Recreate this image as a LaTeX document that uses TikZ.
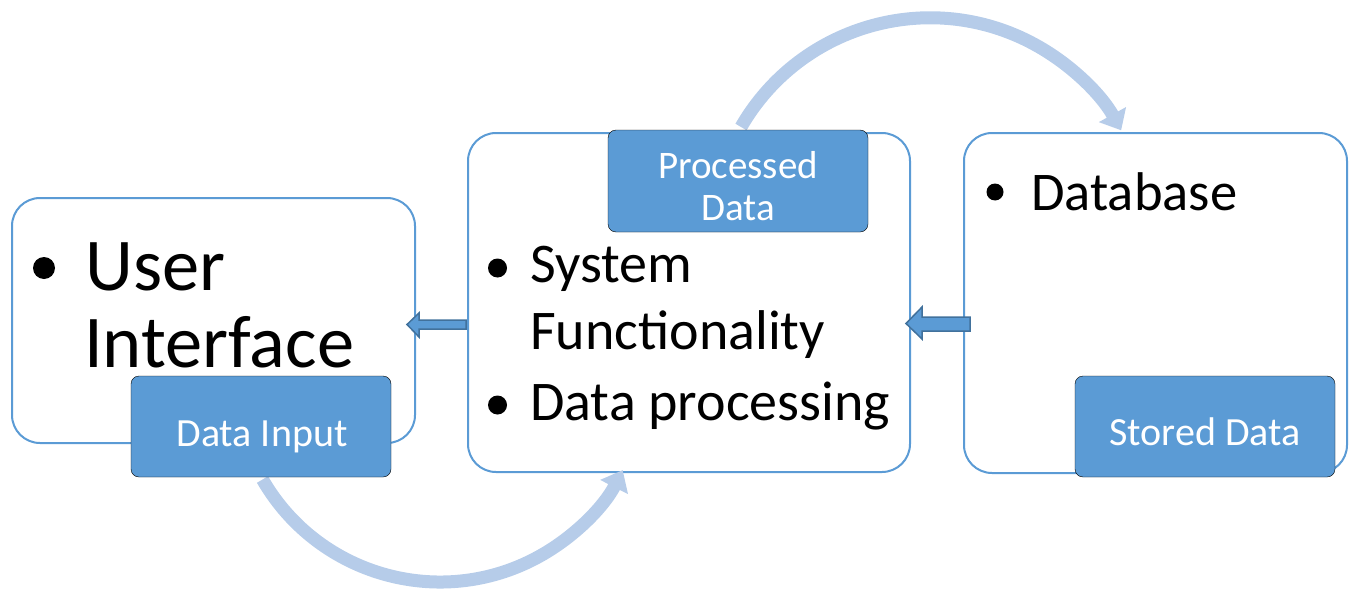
\documentclass[tikz,border=0pt]{standalone}
\usepackage{fontspec}
\setmainfont{Carlito}
\usetikzlibrary{arrows.meta}
\definecolor{accent}{HTML}{5B9BD5}
\definecolor{accentdark}{HTML}{41719C}
\definecolor{lightarc}{HTML}{B6CCE9}
\tikzset{
  bigbox/.style={draw=accent, line width=2pt, fill=white, rounded corners=28pt},
  labelbox/.style={fill=accent, rounded corners=8pt},
  labeltext/.style={text=white, inner sep=0pt, anchor=base, font=\fontsize{40}{44}\selectfont},
  bodytext/.style={text=black, inner sep=0pt, anchor=base west},
  bulletdot/.style={circle, fill=black, inner sep=0pt},
  curvedarrow/.style={draw=lightarc, line width=13pt},
  blockarrow/.style={fill=accent, draw=accentdark, line width=1.5pt, line join=miter}
}
\begin{document}
\begin{tikzpicture}[x=1pt,y=-1pt]
\useasboundingbox (0,0) rectangle (1355,589);
% main boxes
\draw[bigbox] (12,198) rectangle (415,443);
\node[inner sep=0] (leftbox) at (213.5,320.5) {};
\draw[bigbox] (468,133) rectangle (910,472);
\node[inner sep=0] (midbox) at (689,302.5) {};
\draw[bigbox] (964,133) rectangle (1347,473);
\node[inner sep=0] (rightbox) at (1155.5,303) {};
% curved arrows
\coordinate (topstart) at (741,127);
\draw[curvedarrow, -{Triangle[length=18pt,width=30pt]}] (topstart) arc[start angle=210, end angle=331, radius=218.4];
\coordinate (botstart) at (262.5,479.5);
\draw[curvedarrow, -{Triangle[length=19pt,width=30pt]}] (botstart) arc[start angle=150, end angle=27, radius=205];
% left box text
\node[bulletdot, minimum size=22pt] (b1) at (44,268) {};
\node[bodytext, font=\fontsize{74.5}{80}\selectfont] (t1) at (85,290) {User};
\node[bodytext, font=\fontsize{74.5}{80}\selectfont] (t2) at (84,367) {Interface};
% middle box text
\node[bulletdot, minimum size=19pt] (b2) at (497.5,268) {};
\node[bodytext, font=\fontsize{56}{62}\selectfont] (t3) at (530,282) {System};
\node[bodytext, font=\fontsize{56}{62}\selectfont] (t4) at (530,349) {Functionality};
\node[bulletdot, minimum size=19pt] (b3) at (497.5,405) {};
\node[bodytext, font=\fontsize{56}{62}\selectfont] (t5) at (530,420) {Data processing};
% right box text
\node[bulletdot, minimum size=17pt] (b4) at (995,192) {};
\node[bodytext, font=\fontsize{54.5}{60}\selectfont] (t6) at (1031,210) {Database};
% label boxes
\draw[labelbox] (131,376) rectangle (391,477);
\node[labeltext] (l1) at (262,446) {Data Input};
\draw[labelbox] (608,130) rectangle (868,232);
\node[labeltext, font=\fontsize{39}{43}\selectfont] (l2a) at (738,178) {Processed};
\node[labeltext, font=\fontsize{39}{43}\selectfont] (l2b) at (738,220) {Data};
\draw[labelbox] (1075,376) rectangle (1335,477);
\node[labeltext] (l3) at (1205,445) {Stored Data};
% block arrows
\draw[blockarrow] (466,320) -- (419,320) -- (419,313) -- (407,324.5) -- (419,337) -- (419,329) -- (466,329) -- cycle;
\draw[blockarrow] (970,317) -- (922,317) -- (922,307) -- (906,323.5) -- (922,339) -- (922,331) -- (970,331) -- cycle;
\end{tikzpicture}
\end{document}
